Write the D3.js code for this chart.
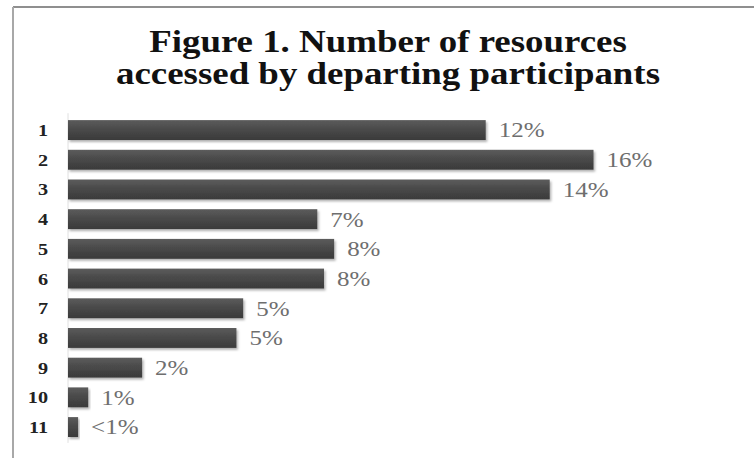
<!DOCTYPE html>
<html>
<head>
<meta charset="utf-8">
<title>Figure 1</title>
<script src="https://cdn.jsdelivr.net/npm/d3@7"></script>
<style>
  body { margin: 0; background: #fff; }
  svg { display: block; }
</style>
</head>
<body>
<div id="chart"></div>
<script>
// data
var categories = ["1", "2", "3", "4", "5", "6", "7", "8", "9", "10", "11"];
var values = [12.4, 15.6, 14.3, 7.4, 7.9, 7.6, 5.2, 5.0, 2.2, 0.6, 0.3];
var valueLabels = ["12%", "16%", "14%", "7%", "8%", "8%", "5%", "5%", "2%", "1%", "<1%"];
var titleLines = ["Figure 1. Number of resources", "accessed by departing participants"];

var width = 754, height = 458;
var stretch = 1.19; // text in the original is wider than normal

var svg = d3.select("#chart").append("svg")
    .attr("width", width)
    .attr("height", height);

var defs = svg.append("defs");
var grad = defs.append("linearGradient")
    .attr("id", "barGrad").attr("x1", 0).attr("y1", 0).attr("x2", 0).attr("y2", 1);
grad.append("stop").attr("offset", "0%").attr("stop-color", "#5c5c5c");
grad.append("stop").attr("offset", "45%").attr("stop-color", "#4a4a4a");
grad.append("stop").attr("offset", "100%").attr("stop-color", "#3a3a3a");

var shadow = defs.append("filter").attr("id", "shadow")
    .attr("x", "-5%").attr("y", "-30%").attr("width", "115%").attr("height", "180%");
shadow.append("feDropShadow")
    .attr("dx", 1.5).attr("dy", 2).attr("stdDeviation", 1.2)
    .attr("flood-color", "#000").attr("flood-opacity", 0.3);

// frame of the chart area (cut off at right and bottom)
svg.append("line").attr("x1", 13).attr("x2", width).attr("y1", 7).attr("y2", 7)
    .attr("stroke", "#8f8f8f").attr("stroke-width", 2);
svg.append("line").attr("x1", 13).attr("x2", 13).attr("y1", 7).attr("y2", height)
    .attr("stroke", "#a8a8a8").attr("stroke-width", 2);

// title
var title = svg.append("g");
titleLines.forEach(function(t, i) {
  title.append("text")
    .attr("transform", "translate(388," + (52 + i * 32) + ") scale(" + stretch + ",1)")
    .attr("text-anchor", "middle")
    .style("font-family", "'Liberation Serif', 'Times New Roman', serif")
    .style("font-weight", "bold")
    .style("font-size", "31px")
    .attr("fill", "#111")
    .text(t);
});

var x = d3.scaleLinear().domain([0, 16]).range([68, 607]);
var y = d3.scaleBand().domain(categories).range([115.2, 441.9])
    .paddingInner(0.33).paddingOuter(0.165);

// faint category axis line
svg.append("line")
    .attr("x1", x(0)).attr("x2", x(0))
    .attr("y1", y.range()[0] - 2).attr("y2", y.range()[1] + 1)
    .attr("stroke", "#e0e0e0").attr("stroke-width", 1);

var rows = categories.map(function(c, i) {
  return {cat: c, val: values[i], label: valueLabels[i]};
});

svg.append("g").selectAll("rect")
  .data(rows)
  .join("rect")
    .attr("x", x(0))
    .attr("y", d => y(d.cat))
    .attr("width", d => x(d.val) - x(0))
    .attr("height", y.bandwidth())
    .attr("fill", "url(#barGrad)")
    .attr("filter", "url(#shadow)");

// category labels
svg.append("g").selectAll("text")
  .data(rows)
  .join("text")
    .attr("transform", d => "translate(48," + (y(d.cat) + y.bandwidth() / 2) + ") scale(" + stretch + ",1)")
    .attr("text-anchor", "end")
    .attr("dy", "0.35em")
    .style("font-family", "'Liberation Serif', 'Times New Roman', serif")
    .style("font-weight", "bold")
    .style("font-size", "17px")
    .attr("fill", "#222")
    .text(d => d.cat);

// value labels
svg.append("g").selectAll("text")
  .data(rows)
  .join("text")
    .attr("transform", d => "translate(" + (x(d.val) + 13) + "," + (y(d.cat) + y.bandwidth() / 2) + ") scale(" + stretch + ",1)")
    .attr("dy", "0.35em")
    .style("font-family", "'Liberation Serif', 'Times New Roman', serif")
    .style("font-size", "21px")
    .attr("fill", "#6e6e6e")
    .text(d => d.label);
</script>
</body>
</html>
